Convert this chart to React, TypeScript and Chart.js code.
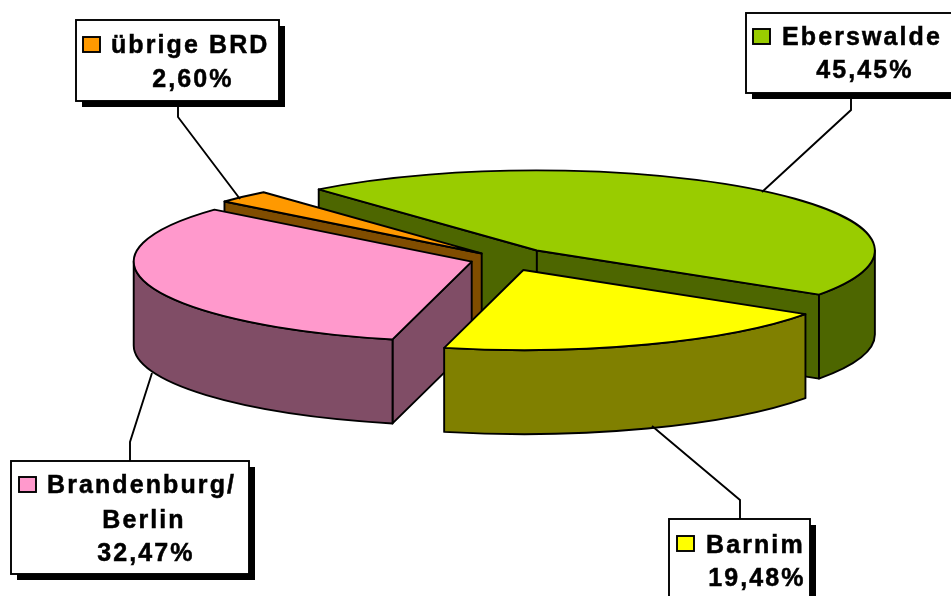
import React, { useEffect, useRef } from "react";
import { Chart, registerables } from "chart.js";

Chart.register(...registerables);

const categories = ["Eberswalde", "Barnim", "Brandenburg/Berlin", "übrige BRD"];
const shares = [45.45, 19.48, 32.47, 2.6];
const topColors = ["#99CC00", "#FFFF00", "#FF99CC", "#FF9900"];
const sideColors = ["#4D6600", "#808000", "#804D66", "#804D00"];
const explode = [48, 50, 35, 33];
const paintOrder = [0, 3, 2, 1];

const RADIUS = 338;
const SQUASH = 0.237;
const DEPTH = 84;
const LINE = 1.9;
const FONT = "bold 25px 'Liberation Sans', Arial, sans-serif";

type Callout = {
  index: number;
  box: [number, number, number, number];
  swatch: [number, number];
  leader: [number, number][];
  lines: { text: string; x: number; y: number; center?: boolean }[];
};

const pct = (v: number) => v.toFixed(2).replace(".", ",") + "%";

const callouts: Callout[] = [
  {
    index: 3,
    box: [76, 20, 203, 81],
    swatch: [83, 37],
    leader: [[178, 101], [178, 117], [240, 199]],
    lines: [
      { text: categories[3], x: 111, y: 53 },
      { text: pct(shares[3]), x: 193, y: 87, center: true },
    ],
  },
  {
    index: 0,
    box: [746, 13, 240, 80],
    swatch: [753, 29],
    leader: [[851, 93], [851, 110], [762, 192]],
    lines: [
      { text: categories[0], x: 782, y: 45 },
      { text: pct(shares[0]), x: 865, y: 78, center: true },
    ],
  },
  {
    index: 2,
    box: [11, 461, 238, 113],
    swatch: [19, 477],
    leader: [[130, 461], [130, 442], [152, 373]],
    lines: [
      { text: "Brandenburg/", x: 47, y: 493 },
      { text: "Berlin", x: 144, y: 528, center: true },
      { text: pct(shares[2]), x: 146, y: 561, center: true },
    ],
  },
  {
    index: 1,
    box: [669, 519, 141, 90],
    swatch: [677, 536],
    leader: [[740, 519], [740, 500], [652, 426]],
    lines: [
      { text: categories[1], x: 706, y: 553 },
      { text: pct(shares[1]), x: 757, y: 586, center: true },
    ],
  },
];

let centerX = 0;
let centerY = 0;

const pie3d = {
  id: "pie3d",
  afterDatasetUpdate(chart: any) {
    // Explode each slice by moving its element along the slice's bisector.
    const arcs = chart.getDatasetMeta(0).data;
    centerX = arcs[0].x;
    centerY = arcs[0].y;
    arcs.forEach((arc: any, i: number) => {
      const mid = (arc.startAngle + arc.endAngle) / 2;
      arc.x = centerX + Math.cos(mid) * explode[i];
      arc.y = centerY + Math.sin(mid) * explode[i];
    });
  },
  beforeDatasetDraw(chart: any) {
    const ctx: CanvasRenderingContext2D = chart.ctx;
    const arcs = chart.getDatasetMeta(0).data;

    ctx.save();
    ctx.lineWidth = LINE;
    ctx.lineJoin = "round";
    ctx.strokeStyle = "#000";
    for (const i of paintOrder) {
      const arc = arcs[i];
      const ax = arc.x;
      const ay = centerY + (arc.y - centerY) * SQUASH;
      const R = arc.outerRadius;
      const px = (a: number) => ax + Math.cos(a) * R;
      const py = (a: number) => ay + Math.sin(a) * R * SQUASH;
      ctx.fillStyle = sideColors[i];

      const wall = (a: number) => {
        ctx.beginPath();
        ctx.moveTo(ax, ay);
        ctx.lineTo(px(a), py(a));
        ctx.lineTo(px(a), py(a) + DEPTH);
        ctx.lineTo(ax, ay + DEPTH);
        ctx.closePath();
        ctx.fill();
        ctx.stroke();
      };
      if (Math.cos(arc.startAngle) < 0) wall(arc.startAngle);
      if (Math.cos(arc.endAngle) > 0) wall(arc.endAngle);

      const a0 = Math.max(arc.startAngle, 0);
      const a1 = Math.min(arc.endAngle, Math.PI);
      if (a1 > a0) {
        ctx.beginPath();
        ctx.ellipse(ax, ay, R, R * SQUASH, 0, a0, a1);
        ctx.lineTo(px(a1), py(a1) + DEPTH);
        ctx.ellipse(ax, ay + DEPTH, R, R * SQUASH, 0, a1, a0, true);
        ctx.closePath();
        ctx.fill();
        ctx.stroke();
      }
    }
    ctx.restore();

    ctx.save();
    ctx.translate(0, centerY);
    ctx.scale(1, SQUASH);
    ctx.translate(0, -centerY);
  },
  afterDatasetDraw(chart: any) {
    const ctx: CanvasRenderingContext2D = chart.ctx;
    ctx.restore();
    const arcs = chart.getDatasetMeta(0).data;
    ctx.save();
    ctx.lineWidth = LINE;
    ctx.lineJoin = "round";
    ctx.strokeStyle = "#000";
    arcs.forEach((arc: any) => {
      const ax = arc.x;
      const ay = centerY + (arc.y - centerY) * SQUASH;
      ctx.beginPath();
      ctx.moveTo(ax, ay);
      ctx.ellipse(ax, ay, arc.outerRadius, arc.outerRadius * SQUASH, 0, arc.startAngle, arc.endAngle);
      ctx.closePath();
      ctx.stroke();
    });
    ctx.restore();
  },
  afterDraw(chart: any) {
    const ctx: CanvasRenderingContext2D = chart.ctx;
    ctx.save();
    ctx.strokeStyle = "#000";
    ctx.lineWidth = LINE;
    for (const c of callouts) {
      ctx.beginPath();
      c.leader.forEach(([x, y], k) => (k ? ctx.lineTo(x, y) : ctx.moveTo(x, y)));
      ctx.stroke();
      const [x, y, w, h] = c.box;
      ctx.fillStyle = "#000";
      ctx.fillRect(x + 6, y + 6, w, h);
      ctx.fillStyle = "#fff";
      ctx.fillRect(x, y, w, h);
      ctx.strokeRect(x, y, w, h);
      ctx.fillStyle = topColors[c.index];
      ctx.fillRect(c.swatch[0], c.swatch[1], 17, 15);
      ctx.strokeRect(c.swatch[0], c.swatch[1], 17, 15);
      ctx.fillStyle = "#000";
      ctx.font = FONT;
      (ctx as any).letterSpacing = "2.1px";
      ctx.textBaseline = "alphabetic";
      ctx.lineWidth = 0.5;
      for (const l of c.lines) {
        ctx.textAlign = l.center ? "center" : "left";
        ctx.fillText(l.text, l.x, l.y);
        ctx.strokeText(l.text, l.x, l.y);
      }
      ctx.lineWidth = LINE;
    }
    ctx.restore();
  },
};

export default function App() {
  const ref = useRef<HTMLCanvasElement>(null);
  useEffect(() => {
    document.body.style.margin = "0";
    const chart = new Chart(ref.current as HTMLCanvasElement, {
      type: "pie",
      data: {
        labels: categories,
        datasets: [
          {
            data: shares,
            backgroundColor: topColors,
            borderWidth: 0,
          },
        ],
      },
      options: {
        animation: false,
        responsive: false,
        rotation: -40.2,
        radius: RADIUS,
        layout: { padding: { left: 59, right: 0, top: 0, bottom: 78 } },
        plugins: { legend: { display: false }, tooltip: { enabled: false } },
      },
      plugins: [pie3d],
    } as any);
    return () => chart.destroy();
  }, []);
  return <canvas ref={ref} width={951} height={596} style={{ display: "block" }} />;
}
